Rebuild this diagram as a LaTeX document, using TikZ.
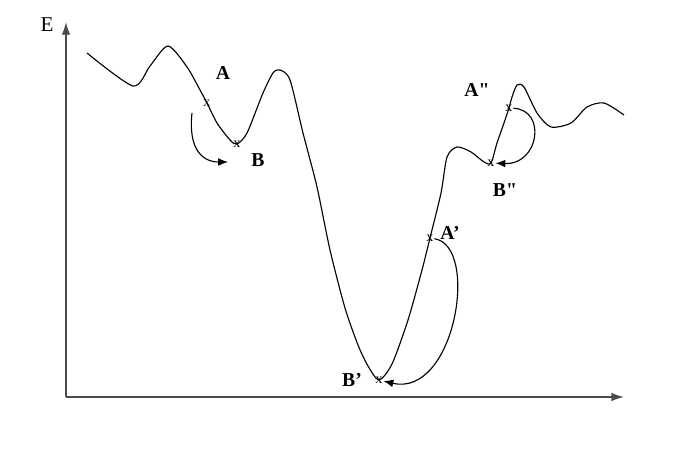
\documentclass[tikz,border=0pt]{standalone}
\usepackage{fontspec}
\setmainfont{Liberation Serif}
\usetikzlibrary{arrows.meta,positioning}

\begin{document}
\begin{tikzpicture}[x=0.025cm,y=-0.025cm,
  lbl/.style={font=\fontsize{14}{16}\selectfont\bfseries,inner sep=1pt},
  cross/.style={font=\fontsize{10}{11}\selectfont,inner sep=0.5pt},
  axis/.style={black!70,line width=0.9pt,-{Latex[length=9pt,width=6pt]}},
  jump/.style={line width=0.8pt,-{Latex[length=7pt,width=5.5pt]}}]

\useasboundingbox (0,0) rectangle (689,457);

%Axes
\coordinate (origin) at (66,397);
\coordinate (Etop) at (66,22);
\coordinate (qend) at (624,397);
\draw[axis] (origin) -- (Etop);
\draw[axis] (origin) -- (qend);
\node[font=\fontsize{15}{17}\selectfont] (E) at (47,25) {E};

% Points on the curve
\node[cross] (ptA) at (207,103) {x};
\node[cross] (ptB) at (237,144) {x};
\node[cross] (ptA1) at (430,238) {x};
\node[cross] (ptB1) at (379,380) {x};
\node[cross] (ptA2) at (509,108) {x};
\node[cross] (ptB2) at (491,163) {x};

% Energy curve
\draw[line width=0.8pt] plot[smooth,tension=0.45] coordinates {
  (87,53) (133,86) (150,66) (168,46) (187,67) (200,90) (ptA)
  (217,123) (230,140) (ptB) (247,133) (263,93) (273,73) (280,70) (290,80)
  (303,133) (317,187) (330,250) (345,308) (358,345) (368,366) (ptB1)
  (392,364) (408,320) (422,270) (ptA1) (441,193) (447,157) (457,147) (471,152)
  (484,162) (ptB2) (497,143) (504,123) (ptA2) (512,97) (517,85) (524,87)
  (537,113) (551,127) (571,123) (587,107) (604,103) (624,115)};

% Labels
\node[lbl] (labA) at (223,73) {A};
\node[lbl] (labB) at (258,160) {B};
\node[lbl] (labA1) at (450,233) {A'};
\node[lbl] (labB1) at (352,380) {B'};
\node[lbl] (labA2) at (477,90) {A\textquotedbl};
\node[lbl] (labB2) at (505,190) {B\textquotedbl};

% Descent steps
\coordinate (A-tail) at (192,113);
\coordinate (B-tip) at (228,162);
\draw[jump] (A-tail) .. controls (188,150) and (203,162) .. (B-tip);
\draw[jump] (ptA1) .. controls +(50,8) and +(76,18) .. (ptB1);
\draw[jump] (ptA2) .. controls +(38,2) and +(48,2) .. (ptB2);

\end{tikzpicture}
\end{document}
